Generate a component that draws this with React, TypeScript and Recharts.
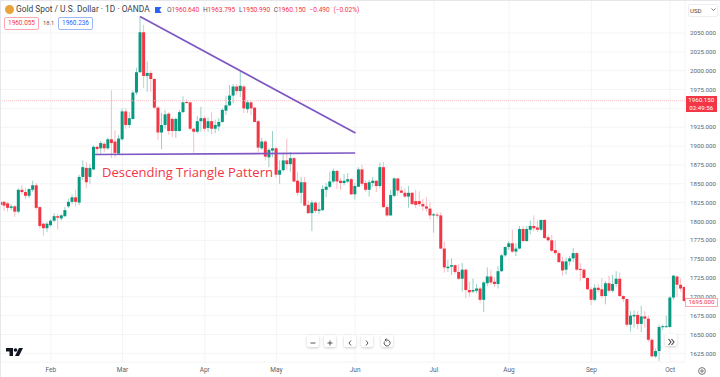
import { Bar, CartesianGrid, ComposedChart, ReferenceLine, XAxis, YAxis } from 'recharts';

// Daily OHLC
const opens = [
  1822, 1826, 1824, 1818, 1820, 1813, 1842, 1839, 1834, 1842, 1848, 1819, 1797, 1791, 1795, 1801, 1807, 1804, 1807, 1820, 1826, 1832, 1825, 1859,
  1871, 1859, 1869, 1899, 1897, 1903, 1897, 1909, 1906, 1890, 1909, 1946, 1928, 1936, 1971, 1998, 2051, 1993, 1997, 1989, 1951, 1918, 1928, 1943,
  1936, 1920, 1920, 1945, 1958.5, 1958, 1923, 1919, 1933, 1937, 1924, 1933, 1923, 1926, 1932, 1947, 1954, 1967, 1979, 1973, 1979, 1949, 1958, 1951,
  1933, 1897, 1906, 1885, 1894, 1897, 1862, 1868, 1881, 1876, 1884, 1854, 1838, 1852, 1822, 1811, 1825, 1814, 1815, 1842, 1846, 1853, 1867, 1854,
  1851, 1853, 1856, 1836, 1846, 1869, 1851, 1842, 1851, 1854, 1847, 1872, 1819, 1808, 1834, 1857, 1841, 1838, 1833, 1838, 1827, 1827, 1823, 1820,
  1817, 1808, 1809, 1808, 1764, 1738, 1740, 1742, 1733, 1724, 1736, 1709, 1707, 1708, 1711, 1696, 1718, 1727, 1720, 1717, 1734, 1755, 1766, 1771,
  1760, 1764, 1790, 1774, 1789, 1794, 1792, 1789, 1802, 1779, 1775, 1762, 1758, 1747, 1736, 1747, 1751, 1758, 1737, 1736, 1725, 1710, 1696, 1712,
  1710, 1701, 1718, 1708, 1717, 1724, 1701, 1697, 1663, 1674, 1676, 1664, 1674, 1671, 1643, 1621, 1628, 1660, 1660, 1660, 1699, 1727, 1716, 1713,
];
const highs = [
  1827, 1827, 1826, 1823, 1822, 1844, 1848, 1844, 1844, 1854, 1851, 1820, 1798, 1799, 1803, 1811, 1810, 1810, 1819, 1830, 1836, 1842, 1862, 1881,
  1879, 1876, 1901, 1901, 1907, 1905, 1911, 1974, 1921, 1915, 1950, 1950, 1945, 1974, 2004, 2072, 2061, 2012, 2000, 1990, 1953, 1944, 1948, 1945,
  1938, 1938, 1948, 1966, 1962, 1959, 1924, 1940, 1952, 1940, 1938, 1945, 1935, 1937, 1950, 1966, 1981, 1982, 1982, 2000, 1981, 1961, 1960, 1952,
  1935, 1911, 1908, 1897, 1920, 1899, 1881, 1891, 1910, 1892, 1885, 1866, 1859, 1859, 1828, 1828, 1827, 1826, 1848, 1851, 1866, 1870, 1868, 1858,
  1863, 1864, 1858, 1851, 1872, 1875, 1854, 1855, 1859, 1855, 1878, 1879, 1822, 1842, 1859, 1858, 1846, 1844, 1847, 1839, 1842, 1840, 1830, 1832,
  1825, 1811, 1812, 1812, 1773, 1749, 1751, 1743, 1743, 1745, 1737, 1720, 1724, 1717, 1713, 1721, 1739, 1736, 1726, 1741, 1757, 1767, 1774, 1789,
  1771, 1794, 1794, 1794, 1801, 1808, 1801, 1802, 1803, 1782, 1782, 1775, 1761, 1753, 1752, 1754, 1765, 1759, 1745, 1738, 1726, 1713, 1717, 1717,
  1725, 1721, 1728, 1729, 1734, 1732, 1702, 1697, 1681, 1682, 1681, 1688, 1681, 1675, 1645, 1631, 1663, 1663, 1675, 1701, 1729, 1728, 1724, 1714,
];
const lows = [
  1819, 1814, 1813, 1815, 1806, 1811, 1836, 1830, 1831, 1839, 1815, 1791, 1781, 1786, 1793, 1799, 1789, 1801, 1806, 1818, 1823, 1820, 1822, 1855,
  1844, 1850, 1868, 1888, 1889, 1892, 1895, 1884, 1885, 1889, 1907, 1923, 1924, 1935, 1968, 1997, 1977, 1972, 1972, 1949, 1908, 1896, 1923, 1915,
  1912, 1911, 1919, 1944, 1956, 1921, 1891, 1917, 1919, 1919, 1919, 1916, 1917, 1920, 1931, 1941, 1953, 1957, 1968, 1965, 1944, 1944, 1941, 1932,
  1892, 1895, 1881, 1872, 1885, 1858, 1850, 1866, 1868, 1866, 1852, 1834, 1824, 1820, 1810, 1787, 1811, 1810, 1814, 1832, 1844, 1851, 1843, 1842,
  1848, 1851, 1835, 1829, 1846, 1847, 1839, 1833, 1846, 1839, 1844, 1818, 1806, 1807, 1832, 1834, 1838, 1831, 1818, 1822, 1818, 1820, 1814, 1813,
  1803, 1785, 1804, 1763, 1732, 1733, 1729, 1730, 1722, 1707, 1698, 1700, 1705, 1705, 1692, 1680, 1714, 1716, 1713, 1711, 1733, 1753, 1762, 1758,
  1754, 1763, 1773, 1773, 1783, 1787, 1786, 1787, 1777, 1773, 1759, 1755, 1745, 1728, 1730, 1742, 1746, 1734, 1721, 1724, 1709, 1689, 1694, 1706,
  1698, 1690, 1705, 1706, 1713, 1700, 1693, 1660, 1654, 1659, 1657, 1653, 1659, 1640, 1620, 1619, 1615, 1656, 1659, 1659, 1696, 1700, 1707, 1693,
];
const closes = [
  1826, 1821, 1818, 1820, 1813, 1842, 1839, 1834, 1843, 1848, 1818, 1794, 1791, 1797, 1801, 1807, 1805, 1808, 1815, 1826, 1832, 1826, 1859, 1872,
  1852, 1871, 1899, 1896, 1904, 1897, 1909, 1904, 1891, 1910, 1946, 1928, 1937, 1971, 1998, 2051, 1993, 1997, 1989, 1951, 1918, 1928, 1942, 1920,
  1920, 1936, 1945, 1958, 1957.5, 1923, 1919, 1933, 1937, 1923, 1933, 1923, 1928, 1932, 1948, 1954, 1967, 1979, 1973, 1980, 1950, 1958, 1950, 1932,
  1898, 1906, 1886, 1895, 1897, 1862, 1868, 1881, 1876, 1884, 1853, 1838, 1852, 1821, 1811, 1825, 1814, 1816, 1843, 1846, 1853, 1867, 1853, 1851,
  1854, 1856, 1836, 1847, 1869, 1850, 1842, 1852, 1854, 1847, 1872, 1819, 1808, 1835, 1857, 1841, 1838, 1833, 1838, 1823, 1822, 1823, 1820, 1817,
  1808, 1809.5, 1808, 1764, 1739, 1740, 1742, 1733, 1724, 1736, 1709, 1706, 1709, 1711, 1696, 1719, 1727, 1719, 1717, 1734, 1755, 1766, 1771, 1760,
  1764, 1790, 1774, 1790, 1794, 1791, 1789, 1802, 1778, 1775, 1761, 1758, 1746, 1735, 1747, 1751, 1758, 1736, 1736, 1725, 1710, 1696, 1712, 1709,
  1701, 1718, 1708, 1717, 1724, 1701, 1697, 1663, 1675, 1676, 1664, 1674, 1671, 1643, 1621, 1628, 1660, 1661, 1661, 1699, 1728, 1716, 1711, 1694.5,
];

const priceTicks = [2050, 2025, 2000, 1975, 1950, 1925, 1900, 1875, 1850, 1825, 1800, 1775, 1750, 1725, 1700, 1675, 1650, 1625];
const monthTicks = [14, 34, 57, 77, 99, 121, 142, 165, 187];
const monthLabels = ['Feb', 'Mar', 'Apr', 'May', 'Jun', 'Jul', 'Aug', 'Sep', 'Oct'];

const lastPrice = 1960.15;
const upperTrend = [{ x: 38.9, y: 2071.9 }, { x: 99.1, y: 1917.3 }];
const lowerTrend = [{ x: 26.3, y: 1888.8 }, { x: 99, y: 1890.8 }];

const candles = opens.map((open, i) => ({
  i,
  open,
  high: highs[i],
  low: lows[i],
  close: closes[i],
  range: [lows[i], highs[i]],
}));

const UP = '#089981';
const DOWN = '#f23645';
const UP_WICK = '#98d2c7';
const DOWN_WICK = '#f9bcc2';

function Candle(props: any) {
  const { x, y, width, height, payload } = props;
  const { open, high, low, close } = payload;
  const top = Math.min(y, y + height);
  const unit = Math.abs(height) / (high - low);
  const isUp = close >= open;
  const bodyTop = top + (high - Math.max(open, close)) * unit;
  const bodyHeight = Math.max(Math.abs(open - close) * unit, 1);
  const cx = x + width / 2;
  return (
    <g>
      <line x1={cx} x2={cx} y1={top} y2={top + Math.abs(height)} stroke={isUp ? UP_WICK : DOWN_WICK} strokeWidth={1} />
      <rect x={x} y={bodyTop} width={width} height={bodyHeight} fill={isUp ? UP : DOWN} />
    </g>
  );
}

const overlayFont = 'Roboto, sans-serif';

function box(style: React.CSSProperties, text: React.ReactNode) {
  return (
    <div style={{ position: 'absolute', whiteSpace: 'nowrap', fontFamily: overlayFont, ...style }}>{text}</div>
  );
}

function NavButton({ x, y, children }: { x: number; y: number; children: React.ReactNode }) {
  return (
    <div
      style={{
        position: 'absolute',
        left: x - 6,
        top: y - 6,
        width: 12,
        height: 12,
        background: '#fff',
        borderRadius: 2,
        boxShadow: '0 1px 3px rgba(0,0,0,0.2)',
      }}
    >
      <svg width={12} height={12} fill="none" stroke="#444" strokeWidth={0.9}>
        {children}
      </svg>
    </div>
  );
}

export default function App() {
  return (
    <div style={{ position: 'absolute', left: 0, top: 0, width: 720, height: 377, overflow: 'hidden', background: '#fff' }}>
      <ComposedChart
        width={720}
        height={377}
        data={candles}
        margin={{ top: 0, right: 0, bottom: 0, left: 0 }}
      >
        <CartesianGrid stroke="#f4f4f6" strokeWidth={1} />
        <XAxis
          dataKey="i"
          type="number"
          domain={[-0.2, 191.15]}
          allowDataOverflow
          ticks={monthTicks}
          tickFormatter={(v: number) => monthLabels[monthTicks.indexOf(v)]}
          tick={{ fontSize: 6.5, fill: '#5c5f68', fontFamily: 'Roboto, sans-serif' }}
          tickLine={false}
          axisLine={false}
          tickSize={0}
          height={15}
          interval={0}
          tickMargin={5}
        />
        <YAxis
          orientation="right"
          type="number"
          domain={[1613.5, 2093.8]}
          allowDataOverflow
          ticks={priceTicks}
          tickFormatter={(v: number) => v.toFixed(3)}
          tick={{ fontSize: 6.2, fill: '#5c5f68', fontFamily: 'Roboto, sans-serif' }}
          tickLine={false}
          axisLine={false}
          tickSize={0}
          width={35}
          interval={0}
          tickMargin={5}
        />
        <ReferenceLine y={lastPrice} stroke="#f9c3c8" strokeDasharray="1 1" />
        <Bar dataKey="range" barSize={3} shape={Candle} isAnimationActive={false} />
        <ReferenceLine segment={upperTrend} stroke="#7e57c2" strokeWidth={1.7} />
        <ReferenceLine segment={lowerTrend} stroke="#7e57c2" strokeWidth={1.7} />
      </ComposedChart>

      {/* chart header */}
      <div style={{ position: 'absolute', left: 0, top: 0, width: 720, height: 1, background: '#e6e7eb' }} />
      <div style={{ position: 'absolute', left: 0, top: 0, width: 1, height: 377, background: '#e6e7eb' }} />
      <div style={{ position: 'absolute', left: 4.5, top: 4.5, width: 9.5, height: 9.5, borderRadius: 5, background: '#e8a33d' }} />
      {box({ left: 16, top: 4, fontSize: 8.4, lineHeight: '10px', color: '#3c3f48' }, 'Gold Spot / U.S. Dollar · 1D · OANDA')}
      <svg style={{ position: 'absolute', left: 155, top: 7 }} width={7} height={6}>
        <path d="M0 0H6.5L4.5 3L6.5 6H0Z" fill="#2962ff" />
      </svg>
      {box(
        { left: 167, top: 5, fontSize: 6.6, lineHeight: '10px', color: '#f23645', wordSpacing: 2 },
        <>
          <span style={{ color: '#555' }}>O</span>1960.640 <span style={{ color: '#555' }}>H</span>1963.795{' '}
          <span style={{ color: '#555' }}>L</span>1950.990 <span style={{ color: '#555' }}>C</span>1960.150 −0.490 (−0.02%)
        </>
      )}
      {box(
        { left: 4, top: 17, width: 33, height: 11, lineHeight: '11px', border: '1px solid #f9a9b0', borderRadius: 2, color: '#f23645', fontSize: 6.4, textAlign: 'center' },
        '1960.055'
      )}
      {box({ left: 43, top: 19, fontSize: 5.7, lineHeight: '9px', color: '#555' }, '18.1')}
      {box(
        { left: 58, top: 17, width: 33, height: 11, lineHeight: '11px', border: '1px solid #9db8f5', borderRadius: 2, color: '#2962ff', fontSize: 6.4, textAlign: 'center' },
        '1960.236'
      )}

      {/* annotation */}
      {box({ left: 102, top: 163, fontSize: 13, lineHeight: '18px', color: '#f23645', fontFamily: '"Open Sans", sans-serif' }, 'Descending Triangle Pattern')}

      {/* price scale labels */}
      {box(
        { left: 688, top: 3.5, width: 27, height: 11, lineHeight: '11px', border: '1px solid #eceef2', borderRadius: 2, fontSize: 6, color: '#444', paddingLeft: 1 },
        'USD'
      )}
      <svg style={{ position: 'absolute', left: 711, top: 8 }} width={5} height={3}>
        <path d="M0.5 0.5L2.5 2.5L4.5 0.5" fill="none" stroke="#555" strokeWidth={0.8} />
      </svg>
      {box(
        { left: 685.5, top: 96, width: 31.5, height: 16, background: '#f23645', color: '#fff', fontSize: 6.2, lineHeight: '8px', textAlign: 'center' },
        <>
          1960.150
          <br />
          02:49:56
        </>
      )}
      {box(
        { left: 685, top: 298, width: 31, height: 7, lineHeight: '7px', background: '#fff', border: '1px solid #f9a9b0', color: '#f23645', fontSize: 6.2, textAlign: 'center' },
        '1695.000'
      )}

      {/* navigation buttons */}
      <NavButton x={313} y={341}><path d="M3.5 6H8.5" /></NavButton>
      <NavButton x={330} y={341}><path d="M3.5 6H8.5M6 3.5V8.5" /></NavButton>
      <NavButton x={350} y={341}><path d="M7 3.5L5 6L7 8.5" /></NavButton>
      <NavButton x={367} y={341}><path d="M5 3.5L7 6L5 8.5" /></NavButton>
      <NavButton x={387} y={341}><path d="M3.5 4.5A3 3 0 1 0 6 3H4.5M5.5 1.5L4 3L5.5 4.5" /></NavButton>
      <NavButton x={671} y={340}><path d="M3.5 3L6 6L3.5 9M6.5 3L9 6L6.5 9" strokeWidth={1.1} /></NavButton>

      <svg style={{ position: 'absolute', left: 6, top: 348 }} width={17} height={9}>
        <path d="M0 0H7V8H3.5V3.5H0ZM13 0H17L13 8H9Z" fill="#131722" />
        <circle cx={9.5} cy={2} r={1.8} fill="#131722" />
      </svg>
      <svg style={{ position: 'absolute', left: 698, top: 367 }} width={8} height={8} fill="none" stroke="#555" strokeWidth={0.8}>
        <circle cx={4} cy={4} r={3.4} />
        <circle cx={4} cy={4} r={1.2} />
      </svg>
    </div>
  );
}
